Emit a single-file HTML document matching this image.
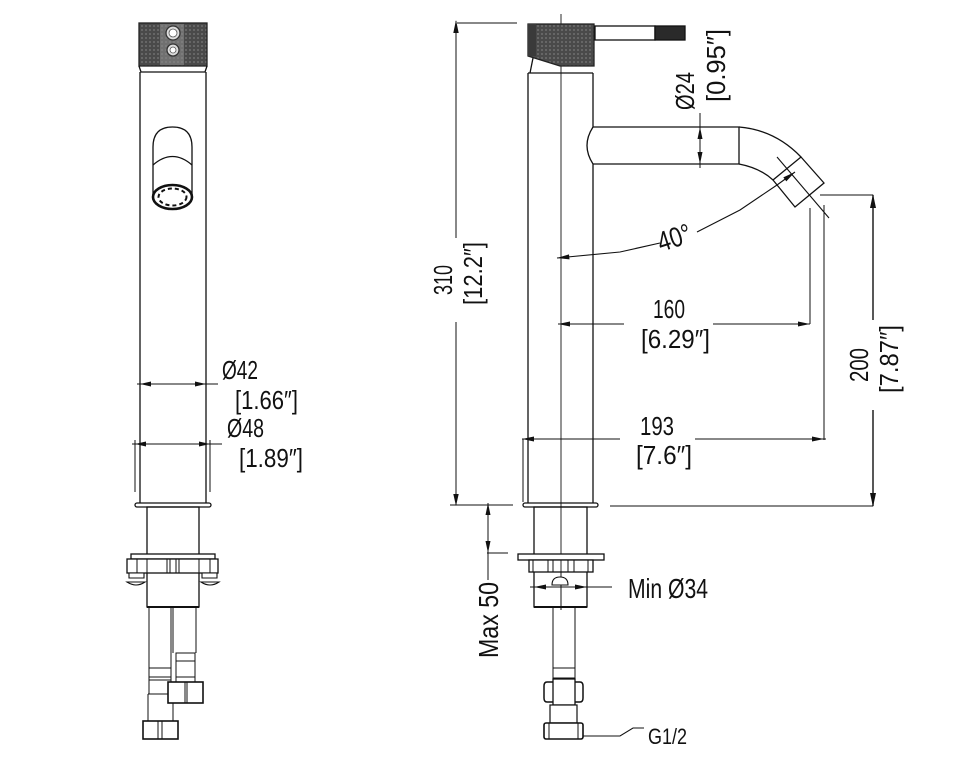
<!DOCTYPE html>
<html><head><meta charset="utf-8"><style>
html,body{margin:0;padding:0;background:#fff;width:971px;height:762px;overflow:hidden}
svg{position:absolute;left:0;top:0}
text{font-family:"Liberation Sans Narrow","Liberation Sans",sans-serif;fill:#111}
</style></head><body>
<svg width="971" height="762" viewBox="0 0 971 762" xmlns="http://www.w3.org/2000/svg">
<defs>
<pattern id="knurl" width="4" height="4" patternUnits="userSpaceOnUse">
<rect width="4" height="4" fill="#4a4a4a"/><circle cx="2" cy="2" r="0.9" fill="#7a7a7a"/>
</pattern>
</defs>
<g fill="none" stroke="#111" stroke-width="1.3">
<!-- ============ LEFT VIEW ============ -->
<rect x="139" y="23" width="68" height="43" fill="url(#knurl)" stroke="#222"/>
<rect x="160" y="24" width="24" height="41" fill="#8a8a8a" stroke="none" opacity="0.6"/>
<circle cx="173" cy="33" r="7" fill="#ddd" stroke="#333"/>
<circle cx="173" cy="33" r="4" fill="#fff" stroke="#555" stroke-width="0.8"/>
<circle cx="173" cy="50" r="6" fill="#ddd" stroke="#333"/>
<circle cx="173" cy="50" r="3" fill="#fff" stroke="#555" stroke-width="0.8"/>
<path d="M139,66 L141,72 L205,72 L207,66"/>
<line x1="140" y1="72" x2="140" y2="503"/>
<line x1="206" y1="72" x2="206" y2="503"/>
<!-- knob -->
<path d="M153,147 Q153,127 172.5,127 Q192,127 192,147 L192,197 M153,147 L153,197"/>
<path d="M153,165 Q172.5,148 192,165"/>
<ellipse cx="172.5" cy="197" rx="19.5" ry="12" stroke-width="2.6"/>
<ellipse cx="172.5" cy="197" rx="14" ry="8.5" stroke-width="2" stroke-dasharray="4 3"/>
<!-- O42 / O48 dims -->
<line x1="137" y1="384" x2="218" y2="384" stroke-width="1"/>
<line x1="132" y1="444" x2="222" y2="444" stroke-width="1"/>
<line x1="135" y1="440" x2="135" y2="492" stroke-width="1"/>
<line x1="210" y1="440" x2="210" y2="492" stroke-width="1"/>
<!-- base -->
<rect x="135" y="503" width="76" height="4" rx="2"/>
<rect x="147" y="507" width="52" height="100"/>
<line x1="147" y1="607" x2="199" y2="607" stroke-width="2"/>
<rect x="131" y="554" width="84" height="5" fill="#fff"/>
<rect x="127" y="559" width="91" height="14" fill="#fff"/>
<path d="M137,559 V573 M147,559 V573 M167,559 V573 M170,559 V573 M176,559 V573 M179,559 V573 M199,559 V573 M210,559 V573" stroke-width="1"/>
<path d="M129,573 h15 v5 h-15 z M127,582 Q136,588 145,582 Z" fill="#fff" stroke-width="1.1"/>
<path d="M202,573 h15 v5 h-15 z M201,582 Q210,588 219,582 Z" fill="#fff" stroke-width="1.1"/>
<!-- hoses left view -->
<g stroke-width="1">
<line x1="149" y1="607" x2="149" y2="669"/>
<line x1="171" y1="607" x2="171" y2="682"/>
<line x1="173" y1="607" x2="173" y2="653"/>
<line x1="196" y1="607" x2="196" y2="653"/>
<rect x="176" y="653" width="19" height="8" fill="#fff"/>
<line x1="176" y1="661" x2="176" y2="680"/><line x1="195" y1="661" x2="195" y2="680"/>
<rect x="176" y="677" width="19" height="5" fill="#fff"/>
<rect x="149" y="668" width="22" height="12" fill="#fff"/>
<line x1="149" y1="677" x2="171" y2="677"/>
<rect x="149" y="680" width="22" height="14" fill="#fff"/>
<line x1="148" y1="694" x2="148" y2="721"/><line x1="173" y1="694" x2="173" y2="721"/>
<line x1="148" y1="694" x2="173" y2="694"/>
</g>
<rect x="168" y="682" width="35" height="21" fill="#fff" stroke-width="1.6"/>
<path d="M185,682 V703 M187,682 V703" stroke-width="1"/>
<rect x="143" y="721" width="35" height="18" fill="#fff" stroke-width="1.6"/>
<path d="M158,721 V739 M162,721 V739" stroke-width="1"/>

<!-- ============ RIGHT VIEW ============ -->
<line x1="561" y1="14" x2="561" y2="610" stroke-width="0.9"/>
<polygon points="528,24 594,24 594,66 560,66 528,56" fill="url(#knurl)" stroke="#222"/>
<rect x="528" y="24" width="8" height="32" fill="#3a3a3a" stroke="none"/>
<rect x="595" y="26" width="60" height="14" fill="#fff"/>
<rect x="655" y="26" width="30" height="14" fill="#2a2a2a"/>
<line x1="530" y1="73" x2="533" y2="58"/>
<line x1="528" y1="73" x2="593" y2="73"/>
<line x1="528" y1="73" x2="528" y2="503"/>
<path d="M593,73 V127 Q581,145.5 593,164 V503"/>
<!-- spout -->
<path d="M593,127 H739 V164 H593"/>
<path d="M739,127 Q775,130 801,157"/>
<path d="M739,164 Q760,168 773,180"/>
<polygon points="801,157 824,183 795,207 773,180" fill="#fff"/>
<line x1="777" y1="157" x2="829" y2="218" stroke-width="1.1"/>
<!-- 40 leader -->
<polyline points="557,258 620,252 660,243" stroke-width="1.1"/>
<polyline points="697,232 740,210 777,185 795,172" stroke-width="1.1"/>
<!-- O24 -->
<line x1="700" y1="113" x2="700" y2="168" stroke-width="1"/>
<!-- 310 -->
<line x1="456" y1="21" x2="456" y2="238" stroke-width="1"/>
<line x1="456" y1="322" x2="456" y2="505" stroke-width="1"/>
<line x1="457" y1="23" x2="517" y2="23" stroke-width="1"/>
<line x1="450" y1="505" x2="513" y2="505" stroke-width="1"/>
<line x1="610" y1="506" x2="873" y2="506" stroke-width="1"/>
<!-- 200 -->
<line x1="873" y1="195" x2="873" y2="320" stroke-width="1.4"/>
<line x1="873" y1="410" x2="873" y2="506" stroke-width="1.4"/>
<line x1="820" y1="195" x2="873" y2="195" stroke-width="1"/>
<!-- 160 -->
<line x1="558" y1="324" x2="624" y2="324" stroke-width="1"/>
<line x1="713" y1="324" x2="810" y2="324" stroke-width="1"/>
<line x1="810" y1="208" x2="810" y2="324" stroke-width="1"/>
<!-- 193 -->
<line x1="522" y1="439" x2="620" y2="439" stroke-width="1"/>
<line x1="695" y1="439" x2="826" y2="439" stroke-width="1"/>
<line x1="824" y1="205" x2="824" y2="440" stroke-width="1"/>
<line x1="523" y1="439" x2="523" y2="502" stroke-width="1"/>
<!-- base right -->
<rect x="523" y="503" width="75" height="4" rx="2"/>
<rect x="534" y="507" width="53" height="100"/>
<line x1="534" y1="607" x2="587" y2="607" stroke-width="2"/>
<rect x="518" y="554" width="86" height="6" fill="#fff"/>
<rect x="529" y="560" width="64" height="12" fill="#fff"/>
<path d="M533,560 V572 M548,560 V572 M553,560 V572 M568,560 V572 M574,560 V572 M588,560 V572" stroke-width="1"/>
<line x1="561" y1="560" x2="561" y2="610" stroke-width="0.9"/>
<path d="M552,585 Q552,577 560,577 Q568,577 568,585 Z" fill="#fff" stroke-width="1.1"/>
<!-- Max 50 -->
<line x1="488" y1="503" x2="488" y2="580" stroke-width="1"/>
<line x1="487" y1="553" x2="508" y2="553" stroke-width="1"/>
<!-- Min O34 -->
<line x1="530" y1="587" x2="612" y2="587" stroke-width="1"/>
<!-- hose right -->
<g stroke-width="1">
<line x1="553" y1="607" x2="553" y2="668"/><line x1="575" y1="607" x2="575" y2="668"/>
<rect x="553" y="668" width="22" height="10" fill="#fff"/>
</g>
<rect x="553" y="679" width="22" height="26" fill="#fff" stroke-width="1.3"/>
<path d="M553,682 H547 Q544,682 544,686 V698 Q544,702 547,702 H553 M575,682 H580 Q583,682 583,686 V698 Q583,702 580,702 H575" stroke-width="1.5"/>
<rect x="550" y="705" width="27" height="18" fill="#fff" stroke-width="1.2"/>
<rect x="544" y="723" width="39" height="16" rx="2" fill="#fff" stroke-width="1.6"/>
<path d="M549,723 V739 M578,723 V739" stroke-width="1"/>
<polyline points="583,736 620,736 633,728 644,728" stroke-width="1.1"/>
</g>

<!-- arrowheads -->
<g fill="#111" stroke="none">
<polygon points="140,384 151,381.5 151,386.5"/>
<polygon points="206,384 195,381.5 195,386.5"/>
<polygon points="135,444 146,441.5 146,446.5"/>
<polygon points="210,444 199,441.5 199,446.5"/>
<polygon points="700,127 697.5,139 702.5,139"/>
<polygon points="700,164 697.5,152 702.5,152"/>
<polygon points="456,20 453.3,33 458.7,33"/>
<polygon points="456,506 453.3,494 458.7,494"/>
<polygon points="488,503 485.5,515 490.5,515"/>
<polygon points="488,553 485.5,541 490.5,541"/>
<polygon points="534,587 546,584.5 546,589.5"/>
<polygon points="587,587 575,584.5 575,589.5"/>
<polygon points="873,194 870,208 876,208"/>
<polygon points="873,507 870,493 876,493"/>
<polygon points="558,324 570,321.5 570,326.5"/>
<polygon points="810,324 798,321.5 798,326.5"/>
<polygon points="522,439 534,436.5 534,441.5"/>
<polygon points="824,439 812,436.5 812,441.5"/>
<polygon points="557,258 569,254.4 569.5,259.4"/>
<polygon points="795,172 786.3,181.4 783.3,177.4"/>
</g>

<!-- text -->
<g font-size="26">
<text x="222" y="379" textLength="36" lengthAdjust="spacingAndGlyphs">Ø42</text>
<text x="235" y="409" textLength="63" lengthAdjust="spacingAndGlyphs">[1.66″]</text>
<text x="227" y="437" textLength="37" lengthAdjust="spacingAndGlyphs">Ø48</text>
<text x="239" y="467" textLength="64" lengthAdjust="spacingAndGlyphs">[1.89″]</text>
<text x="653" y="318" textLength="32" lengthAdjust="spacingAndGlyphs">160</text>
<text x="641" y="348" textLength="69" lengthAdjust="spacingAndGlyphs">[6.29″]</text>
<text x="640" y="435" textLength="34" lengthAdjust="spacingAndGlyphs">193</text>
<text x="636" y="464" textLength="56" lengthAdjust="spacingAndGlyphs">[7.6″]</text>
<text transform="translate(452,295) rotate(-90)" textLength="30" lengthAdjust="spacingAndGlyphs">310</text>
<text transform="translate(482,305) rotate(-90)" textLength="63" lengthAdjust="spacingAndGlyphs">[12.2″]</text>
<text transform="translate(694,110) rotate(-90)" textLength="38" lengthAdjust="spacingAndGlyphs">Ø24</text>
<text transform="translate(725,102) rotate(-90)" textLength="73" lengthAdjust="spacingAndGlyphs">[0.95″]</text>
<text transform="translate(868,382) rotate(-90)" textLength="34" lengthAdjust="spacingAndGlyphs">200</text>
<text transform="translate(898,393) rotate(-90)" textLength="68" lengthAdjust="spacingAndGlyphs">[7.87″]</text>
<text transform="translate(661,252) rotate(-18)" font-size="28" textLength="34" lengthAdjust="spacingAndGlyphs">40°</text>
</g>
<text x="628" y="598" font-size="28" textLength="80" lengthAdjust="spacingAndGlyphs">Min Ø34</text>
<text transform="translate(498,658) rotate(-90)" font-size="28" textLength="76" lengthAdjust="spacingAndGlyphs">Max 50</text>
<text x="648" y="744" font-size="22" textLength="39" lengthAdjust="spacingAndGlyphs">G1/2</text>
</svg>
</body></html>
